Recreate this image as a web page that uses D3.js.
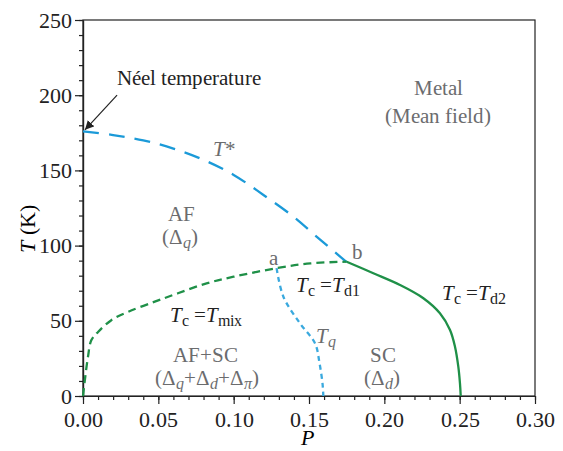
<!DOCTYPE html>
<html>
<head>
  <style>
    @font-face { font-family: 'ChartSerif'; font-style: normal; src: local('Liberation Serif'), local('LiberationSerif'), local('Liberation Serif Regular'), local('LiberationSerif-Regular'); }
    @font-face { font-family: 'ChartSerif'; font-style: italic; src: local('Liberation Serif Italic'), local('LiberationSerif-Italic'); }
    body { margin: 0; background: #fff; }
    .axis path, .axis line { stroke: #222; stroke-width: 1.2px; }
  </style>
</head>
<body>
  <script src="https://d3js.org/d3.v7.min.js"></script>
  <svg width="563" height="451"></svg>
  <script>

// Curves (P, T in K)
var tStarP = [0, 0.02, 0.04, 0.06, 0.08, 0.10, 0.12, 0.14, 0.155, 0.175];
var tStarT = [176, 173.5, 170, 164.5, 157, 147, 133.5, 119, 106, 89];

var tMixP = [0, 0.0015, 0.0033, 0.0055, 0.01, 0.0188, 0.03, 0.0476, 0.063, 0.082, 0.10, 0.1285, 0.151, 0.175];
var tMixT = [0, 12.8, 26, 37, 42.6, 50.4, 56, 62.7, 68.3, 74.9, 79.3, 85, 88.2, 89.3];

var tD2P = [0.175, 0.1927, 0.2104, 0.2259, 0.2369, 0.2436, 0.2469, 0.2491, 0.2502, 0.2507];
var tD2T = [89.3, 81.6, 73.8, 65, 55, 43.9, 32.8, 19.5, 8.4, 0];

var tqP = [0.1285, 0.133, 0.144, 0.154, 0.157, 0.159, 0.1595];
var tqT = [85, 66, 48.3, 35, 21.7, 8, 0];

var xTicks = [0, 0.05, 0.10, 0.15, 0.20, 0.25, 0.30];
var yTicks = [0, 50, 100, 150, 200, 250];

var width = 563, height = 451;
var margins = {top: 20, right: 28, bottom: 55, left: 83};
var serif = "ChartSerif, 'Liberation Serif', 'DejaVu Serif', serif";

var svg = d3.select('svg');

var xScale = d3.scaleLinear().domain([0, 0.30])
               .range([margins.left, width - margins.right]);
var yScale = d3.scaleLinear().domain([0, 250])
               .range([height - margins.bottom, margins.top]);

var blue = '#1b9ad8', lightBlue = '#3aa9de', green = '#1f9048', grey = '#6b6c6e';

// frame (top and right)
svg.append('rect')
   .attr('x', xScale(0)).attr('y', yScale(250))
   .attr('width', xScale(0.30) - xScale(0))
   .attr('height', yScale(0) - yScale(250))
   .attr('fill', 'none').attr('stroke', '#222').attr('stroke-width', 1.2);

// minor ticks
svg.append('g').attr('class', 'axis')
   .attr('transform', 'translate(0,' + yScale(0) + ')')
   .call(d3.axisBottom(xScale).tickValues(d3.range(31).map(function(i){ return i / 100; }))
           .tickSize(4).tickSizeOuter(0).tickFormat(''));
svg.append('g').attr('class', 'axis')
   .attr('transform', 'translate(' + xScale(0) + ',0)')
   .call(d3.axisLeft(yScale).tickValues(d3.range(26).map(function(i){ return i * 10; }))
           .tickSize(4).tickSizeOuter(0).tickFormat(''));

// major ticks
svg.append('g').attr('class', 'axis')
   .attr('transform', 'translate(0,' + yScale(0) + ')')
   .call(d3.axisBottom(xScale).tickValues(xTicks).tickSize(8).tickSizeOuter(0)
           .tickFormat(d3.format('.2f')).tickPadding(7));
svg.append('g').attr('class', 'axis')
   .attr('transform', 'translate(' + xScale(0) + ',0)')
   .call(d3.axisLeft(yScale).tickValues(yTicks).tickSize(8).tickSizeOuter(0)
           .tickPadding(3));
svg.selectAll('.axis').attr('font-family', serif).attr('font-size', 22);
svg.selectAll('.axis text').attr('fill', '#222').style('font-family', serif);

// axis labels
svg.append('text')
   .attr('x', 307).attr('y', 445)
   .attr('text-anchor', 'middle')
   .style('font-family', serif).style('font-size', '22px')
   .style('font-style', 'italic').text('P');

var yl = svg.append('text')
   .attr('transform', 'translate(35,229) rotate(-90)')
   .attr('text-anchor', 'middle')
   .style('font-family', serif).style('font-size', '22px');
yl.append('tspan').style('font-style', 'italic').text('T');
yl.append('tspan').text(' (K)');

// curves
var line = d3.line()
   .x(function(d) { return xScale(d[0]); })
   .y(function(d) { return yScale(d[1]); })
   .curve(d3.curveCatmullRom.alpha(0.5));

function pairs(px, ty) { return px.map(function(p, i) { return [p, ty[i]]; }); }

svg.append('path').datum(pairs(tStarP, tStarT))
   .attr('d', line).attr('fill', 'none')
   .attr('stroke', blue).attr('stroke-width', 2.3)
   .attr('stroke-dasharray', '16,10');

svg.append('path').datum(pairs(tMixP, tMixT))
   .attr('d', line).attr('fill', 'none')
   .attr('stroke', green).attr('stroke-width', 2.3)
   .attr('stroke-dasharray', '8,5');

svg.append('path').datum(pairs(tD2P, tD2T))
   .attr('d', line).attr('fill', 'none')
   .attr('stroke', green).attr('stroke-width', 2.3);

svg.append('path').datum(pairs(tqP, tqT))
   .attr('d', line).attr('fill', 'none')
   .attr('stroke', lightBlue).attr('stroke-width', 2.3)
   .attr('stroke-dasharray', '5,4');

// arrow to the Neel temperature
svg.append('defs').append('marker')
   .attr('id', 'arrow').attr('viewBox', '0 0 10 10')
   .attr('refX', 10).attr('refY', 5)
   .attr('markerWidth', 9).attr('markerHeight', 9)
   .attr('markerUnits', 'userSpaceOnUse')
   .attr('orient', 'auto')
   .append('path').attr('d', 'M0,0 L10,5 L0,10 Z').attr('fill', '#222');

svg.append('line')
   .attr('x1', xScale(0.0226)).attr('y1', yScale(200))
   .attr('x2', xScale(0.0013)).attr('y2', yScale(177))
   .attr('stroke', '#222').attr('stroke-width', 1.2)
   .attr('marker-end', 'url(#arrow)');

// labels
function label(x, y, parts, opts) {
  opts = opts || {};
  var t = svg.append('text')
     .attr('x', x).attr('y', y)
     .attr('text-anchor', opts.anchor || 'middle')
     .style('font-family', serif).style('font-size', '21px')
     .attr('fill', opts.fill || '#222');
  parts.forEach(function(p) {
    var s = t.append('tspan').text(p.t);
    if (p.i) s.style('font-style', 'italic');
    if (p.sub) s.style('font-size', '16px').attr('baseline-shift', '-25%');
  });
  return t;
}

label(117, 85, [{t: 'Néel temperature'}], {anchor: 'start'});
label(224, 156, [{t: 'T', i: 1}, {t: '*'}], {fill: grey});
label(438, 95, [{t: 'Metal'}], {fill: grey});
label(438, 123, [{t: '(Mean field)'}], {fill: grey});
label(181, 221, [{t: 'AF'}], {fill: grey});
label(180, 244, [{t: '(Δ'}, {t: 'q', i: 1, sub: 1}, {t: ')'}], {fill: grey});
label(273, 265, [{t: 'a'}], {fill: grey});
label(357, 259, [{t: 'b'}], {fill: grey});
label(296, 292, [{t: 'T', i: 1}, {t: 'c', sub: 1}, {t: ' ='}, {t: 'T', i: 1}, {t: 'd1', sub: 1}], {anchor: 'start'});
label(442, 300, [{t: 'T', i: 1}, {t: 'c', sub: 1}, {t: ' ='}, {t: 'T', i: 1}, {t: 'd2', sub: 1}], {anchor: 'start'});
label(170, 322, [{t: 'T', i: 1}, {t: 'c', sub: 1}, {t: ' ='}, {t: 'T', i: 1}, {t: 'mix', sub: 1}], {anchor: 'start'});
label(316, 343, [{t: 'T', i: 1}, {t: 'q', i: 1, sub: 1}], {anchor: 'start', fill: grey});
label(205, 362, [{t: 'AF+SC'}], {fill: grey});
label(207, 385, [{t: '(Δ'}, {t: 'q', i: 1, sub: 1}, {t: '+Δ'}, {t: 'd', i: 1, sub: 1}, {t: '+Δ'}, {t: 'π', i: 1, sub: 1}, {t: ')'}], {fill: grey});
label(383, 362, [{t: 'SC'}], {fill: grey});
label(382, 385, [{t: '(Δ'}, {t: 'd', i: 1, sub: 1}, {t: ')'}], {fill: grey});

  </script>
</body>
</html>
